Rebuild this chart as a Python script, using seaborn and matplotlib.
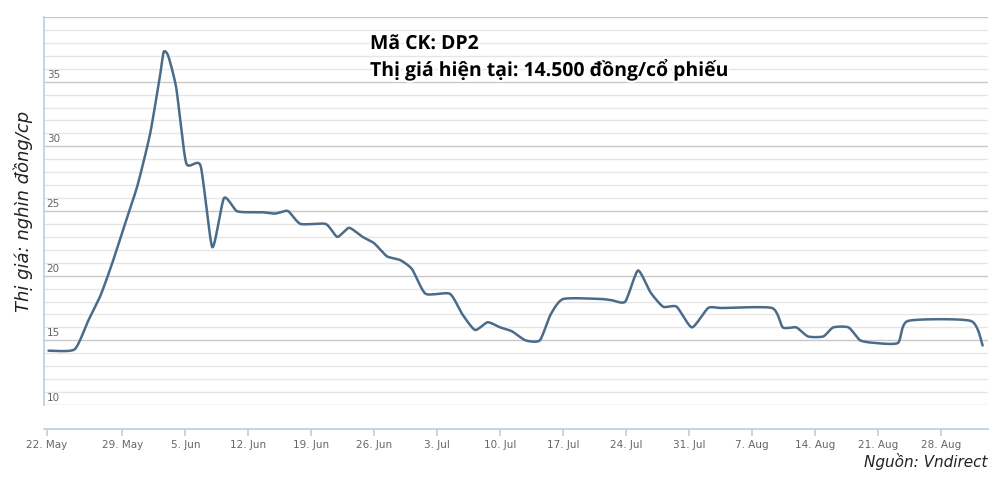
import numpy as np
import pandas as pd
import matplotlib
matplotlib.use("Agg")
import matplotlib.pyplot as plt
import matplotlib.patheffects as pe
import seaborn as sns

# days since 29 May
days = [-8.2, -5.3, -3.8, -2.4, -1.1, 0.3, 1.7, 3.1, 4.2, 4.6, 5.1, 6.0, 7.1, 8.7, 10.0,
        11.3, 12.7, 14.2, 15.6, 17.0, 18.4, 19.8, 22.6, 23.9, 25.2, 26.7, 28.0, 29.4, 30.9,
        32.2, 33.7, 36.4, 37.8, 39.2, 40.6, 42.0, 43.3, 44.8, 46.4, 47.6, 49.0, 53.1, 54.4,
        55.9, 57.3, 58.7, 60.1, 61.6, 63.3, 65.1, 66.6, 72.2, 73.4, 74.9, 76.2, 77.9, 79.0,
        80.7, 82.0, 83.6, 86.2, 87.3, 94.3, 95.6]
price = [14.2, 14.3, 16.5, 18.5, 21.0, 24.0, 27.0, 31.0, 35.5, 37.3, 37.0, 34.5, 28.7, 28.5, 22.2,
         26.0, 25.0, 24.9, 24.9, 24.8, 25.0, 24.0, 24.0, 23.0, 23.7, 23.0, 22.5, 21.5, 21.2,
         20.5, 18.6, 18.6, 17.0, 15.8, 16.4, 16.0, 15.7, 15.0, 15.0, 17.0, 18.2, 18.2, 18.1,
         18.0, 20.4, 18.7, 17.6, 17.6, 16.0, 17.5, 17.5, 17.5, 16.0, 16.0, 15.3, 15.3, 16.0,
         16.0, 15.0, 14.8, 14.8, 16.5, 16.5, 14.6]
tick_days = [-8.4, 0, 7, 14, 21, 28, 35, 42, 49, 56, 63, 70, 77, 84, 91]
tick_labels = ["22. May", "29. May", "5. Jun", "12. Jun", "19. Jun", "26. Jun", "3. Jul", "10. Jul",
               "17. Jul", "24. Jul", "31. Jul", "7. Aug", "14. Aug", "21. Aug", "28. Aug"]
y_ticks = [10, 15, 20, 25, 30, 35]

def smooth(x, y, n=12, k=0.6):
    # cardinal curve through the read points (drawing only)
    x = np.asarray(x, float); y = np.asarray(y, float)
    px = np.r_[x[0], x, x[-1]]; py = np.r_[y[0], y, y[-1]]
    t = np.linspace(0, 1, n, endpoint=False)
    h00 = 2*t**3 - 3*t**2 + 1; h10 = t**3 - 2*t**2 + t
    h01 = -2*t**3 + 3*t**2; h11 = t**3 - t**2
    ox, oy = [], []
    for i in range(1, len(px) - 2):
        for arr, out in ((px, ox), (py, oy)):
            p0, p1, p2, p3 = arr[i-1], arr[i], arr[i+1], arr[i+2]
            m1 = k * 0.5 * (p2 - p0); m2 = k * 0.5 * (p3 - p1)
            out.extend(h00*p1 + h10*m1 + h01*p2 + h11*m2)
    ox.append(x[-1]); oy.append(y[-1])
    return ox, oy

sns.set_theme(style="white")
plt.rcParams['font.family'] = ['DejaVu Sans']
sx, sy = smooth(days, price)
df = pd.DataFrame({"day": sx, "price": sy})

fig = plt.figure(figsize=(9.98, 4.79), dpi=100)
ax = fig.add_axes([44/998, 1-405/479, 944/998, 388/479])
for v in np.arange(10, 41, 1):
    ax.axhline(v, color="#c8c8c8" if v % 5 == 0 else "#e6e6e6", lw=1, zorder=0)
sns.lineplot(data=df, x="day", y="price", ax=ax, color="#4a6b8a", lw=1.8, sort=False, estimator=None)
ax.set_xlim(-8.7, 96.2)
ax.set_ylim(10, 40)
ax.set_yticks([])
ax.set_ylabel("Thị giá: nghìn đồng/cp", fontsize=13, style="italic", color="#222222", labelpad=8)
ax.set_xlabel("")
for v in y_ticks:
    ax.text(-8.4, v + 0.15, str(v), fontsize=7.5, color="#666666", ha="left", va="bottom")
ax.set_xticks(tick_days)
ax.set_xticklabels(tick_labels)
ax.tick_params(axis="x", length=5, color="#c0d0e0", bottom=True, pad=3, labelsize=7.5, labelcolor="#666666")
ax.get_xticklabels()[0].set_ha("left")
for s in ["top", "right"]:
    ax.spines[s].set_visible(False)
ax.spines["left"].set_color("#c0d0e0")
ax.spines["bottom"].set_color("#c0d0e0")
ax.spines["bottom"].set_position(("outward", 17))
eff = [pe.withStroke(linewidth=3, foreground="white")]
fig.text(370/998, 1-44/479, "Mã CK: DP2", fontsize=14, fontweight="bold", family="Open Sans",
         color="black", va="center", path_effects=eff)
fig.text(370/998, 1-70/479, "Thị giá hiện tại: 14.500 đồng/cổ phiếu", fontsize=14, family="Open Sans",
         fontweight="bold", color="black", va="center", path_effects=eff)
fig.text(988/998, 1-461/479, "Nguồn: Vndirect", fontsize=11, style="italic", ha="right", va="center", color="#222222")
fig.savefig("out.png", dpi=100)
